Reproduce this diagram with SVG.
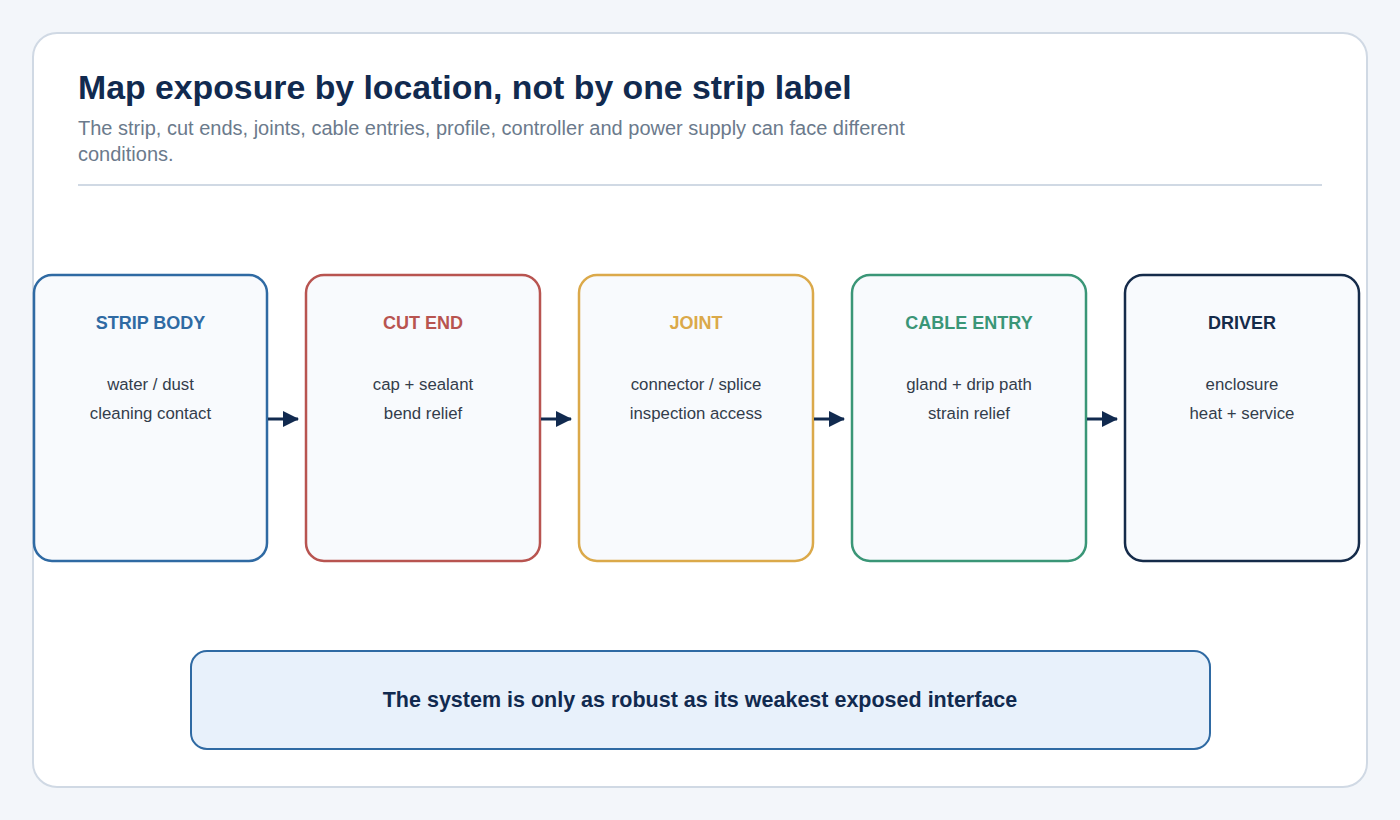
<svg xmlns="http://www.w3.org/2000/svg" width="1400" height="820" viewBox="0 0 1400 820">
<style>
.t{font-family:"Liberation Sans",Arial,sans-serif}
.title{font-size:33.8px;font-weight:bold;fill:#112a4f}
.sub{font-size:20px;fill:#6b7a8c}
.box{fill:#f8fafd;stroke-width:2.5}
.nt{font-size:18px;font-weight:bold;text-anchor:middle}
.nb{font-size:16.8px;fill:#333d4b;text-anchor:middle}
.conn{stroke:#112a4f;stroke-width:3;fill:none}
</style>
<defs>
<marker id="ah" markerWidth="16" markerHeight="16" refX="15" refY="8" orient="auto" markerUnits="userSpaceOnUse" viewBox="0 0 16 16">
<path d="M0,0 L16,8 L0,16 z" fill="#112a4f"/>
</marker>
</defs>
<rect width="1400" height="820" fill="#f3f6fa"/>
<rect x="33" y="33" width="1334" height="754" rx="24" fill="#ffffff" stroke="#d0d9e4" stroke-width="2"/>
<text class="t title" x="78" y="99">Map exposure by location, not by one strip label</text>
<text class="t sub" x="78" y="135">The strip, cut ends, joints, cable entries, profile, controller and power supply can face different</text>
<text class="t sub" x="78" y="161">conditions.</text>
<line x1="78" y1="185" x2="1322" y2="185" stroke="#d0d9e4" stroke-width="2"/>
<g id="n1">
<rect class="box" x="34" y="275" width="233" height="286" rx="18" stroke="#2f6aa3"/>
<text class="t nt" x="150.5" y="329" fill="#2f6aa3">STRIP BODY</text>
<text class="t nb" x="150.5" y="390">water / dust</text>
<text class="t nb" x="150.5" y="419">cleaning contact</text>
</g>
<g id="n2">
<rect class="box" x="306" y="275" width="234" height="286" rx="18" stroke="#b85450"/>
<text class="t nt" x="423" y="329" fill="#b85450">CUT END</text>
<text class="t nb" x="423" y="390">cap + sealant</text>
<text class="t nb" x="423" y="419">bend relief</text>
</g>
<g id="n3">
<rect class="box" x="579" y="275" width="234" height="286" rx="18" stroke="#dba94a"/>
<text class="t nt" x="696" y="329" fill="#dba94a">JOINT</text>
<text class="t nb" x="696" y="390">connector / splice</text>
<text class="t nb" x="696" y="419">inspection access</text>
</g>
<g id="n4">
<rect class="box" x="852" y="275" width="234" height="286" rx="18" stroke="#3a9677"/>
<text class="t nt" x="969" y="329" fill="#3a9677">CABLE ENTRY</text>
<text class="t nb" x="969" y="390">gland + drip path</text>
<text class="t nb" x="969" y="419">strain relief</text>
</g>
<g id="n5">
<rect class="box" x="1125" y="275" width="234" height="286" rx="18" stroke="#152b4a"/>
<text class="t nt" x="1242" y="329" fill="#152b4a">DRIVER</text>
<text class="t nb" x="1242" y="390">enclosure</text>
<text class="t nb" x="1242" y="419">heat + service</text>
</g>
<g id="connectors">
<line class="conn" x1="268" y1="419" x2="298" y2="419" marker-end="url(#ah)"/>
<line class="conn" x1="541" y1="419" x2="571" y2="419" marker-end="url(#ah)"/>
<line class="conn" x1="814" y1="419" x2="844" y2="419" marker-end="url(#ah)"/>
<line class="conn" x1="1087" y1="419" x2="1117" y2="419" marker-end="url(#ah)"/>
</g>
<g id="summary">
<rect x="191" y="651" width="1019" height="98" rx="16" fill="#e8f1fb" stroke="#2f6aa3" stroke-width="2"/>
<text class="t" x="700" y="707" font-size="21.5" font-weight="bold" fill="#112a4f" text-anchor="middle">The system is only as robust as its weakest exposed interface</text>
</g>
</svg>
